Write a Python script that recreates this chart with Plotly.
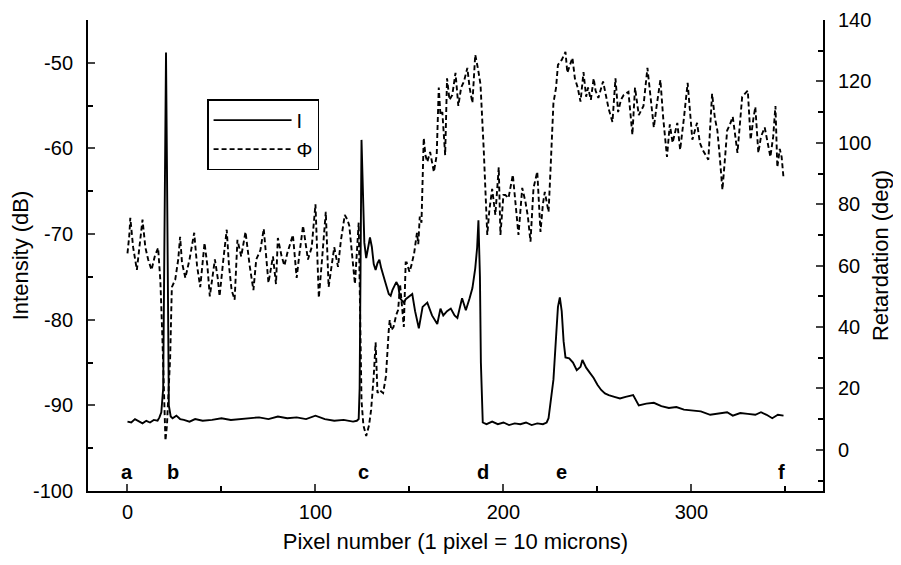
import plotly.graph_objects as go

# ---- Intensity I (dB), left axis ----
i_x = [0, 2, 4, 6, 8, 10, 12, 14, 16, 17, 18, 19, 19.5, 20, 20.5, 21, 21.5, 22, 23, 24,
       26, 28, 30, 33, 36, 40, 45, 50, 55, 60, 65, 70, 75, 80, 85, 90, 95, 100, 105, 110,
       115, 120, 122, 123, 123.5, 124, 124.5, 125, 125.5, 126, 127, 128, 129, 130, 131, 132,
       133, 134, 135, 137, 139, 140, 141, 143, 144, 145, 147, 148, 150, 151.5, 153, 155,
       157, 159.5, 162, 164.8, 166.5, 168, 170, 172, 174, 175.5, 178, 180, 182, 183.5, 185,
       186, 186.7, 187.5, 188, 189, 191, 194, 197, 200, 203, 206, 209, 212, 215, 218, 221,
       223, 224, 225, 226.6, 228, 229, 230, 231, 232, 233, 235, 237, 239, 241, 242, 244,
       246, 248, 250, 252, 254, 256, 259, 262, 265, 269, 272, 276, 280, 284, 288, 292, 296,
       300, 305, 310, 315, 319, 322, 326, 330, 334, 337, 340, 343, 346, 349]
i_db = [-91.9, -92.0, -91.6, -91.9, -92.1, -91.8, -92.0, -91.7, -91.8, -91.4, -90.8, -88, -75,
        -58, -48.8, -62, -80, -90, -91.3, -91.5,
        -91.2, -91.6, -91.7, -91.9, -91.6, -91.8, -91.7, -91.5, -91.7, -91.6, -91.5, -91.4,
        -91.6, -91.3, -91.5, -91.4, -91.6, -91.2, -91.6, -91.8,
        -91.7, -91.9, -91.8, -91.6, -88, -75, -59, -63, -68, -71, -72.8, -71.5, -70.4, -71.5,
        -73.5, -74.2,
        -73.4, -73, -74, -75.5, -77, -77.2, -76.5, -75.6, -76, -77.5, -78, -77.6, -77.2, -77,
        -79, -81,
        -78.5, -78, -79.5, -80.5, -78.7, -79.5, -79, -78.7, -79.5, -79.8, -77.5, -78.9, -77.5,
        -76.3, -74,
        -71.6, -68.4, -75, -85, -92, -92.2, -91.9, -92.2, -92.0, -92.3, -92.1, -92.2, -92.0,
        -92.3, -92.1, -92.2,
        -92.0, -91.5, -90, -87, -82, -78.5, -77.4, -79, -82.5, -84.4, -84.5, -85, -85.9,
        -85.5, -84.7, -85.6,
        -86.2, -86.8, -87.6, -88.2, -88.6, -88.8, -89, -89.2, -89, -88.8, -90, -89.8, -89.7,
        -90.1, -90.3, -90.2, -90.5,
        -90.6, -90.7, -91.1, -90.9, -90.8, -91.2, -90.9, -91, -91.1, -90.8, -91.1, -91.5,
        -91.1, -91.2]

# ---- Retardation Phi (deg), right axis ----
p_x = [0, 1, 1.5, 3, 5, 6.5, 8, 9.5, 11, 12.8, 14.5, 16.3, 17.5, 18.5, 19.5, 20.2, 21, 22,
       22.7, 23.6, 25.4, 27, 28, 29, 30.8, 33, 35.5, 37, 38.7, 41, 42.5, 43.8, 46.5, 48, 49,
       51, 52.8, 54, 55.4, 57, 58.5, 60.5, 62.8, 65, 67, 68.5, 70.7, 72.5, 75, 77.4, 79, 80,
       82, 83.5, 85, 88, 90, 91.5, 93.4, 96, 98, 100, 101.8, 103.5, 105.5, 107, 110, 112,
       113.5, 115.6, 117, 118, 119.5, 121, 123, 123.8, 124.5, 125.5, 127, 128.5, 129.6, 131,
       132, 133, 134, 136, 137.5, 139, 139.5, 140.4, 141.5, 143, 144, 145, 146, 147, 148,
       148.5, 150, 151, 152.5, 154, 154.7, 155.5, 156.4, 157.6, 158.5, 159.5, 161, 163,
       164.5, 165.6, 166.5, 167.5, 169, 170, 171.3, 172.8, 174.5, 176, 177.5, 179, 180.8,
       182, 183.5, 185, 186.5, 187.8, 189.5, 191.4, 192.5, 194, 195.7, 197.5, 198.4, 200,
       201, 202.7, 205, 207, 208, 210, 211.7, 213, 214.4, 216, 218, 219.7, 221, 222, 224,
       225, 226.6, 228, 229, 231, 233, 234, 235.5, 236.7, 238, 239.5, 241, 242.6, 244, 245,
       246.5, 248, 249, 250.5, 253, 254.5, 256, 258, 259.6, 261, 262.5, 264, 266.5, 268.6,
       270, 272, 274.5, 276.6, 278, 280, 281.5, 283.5, 285, 287, 288.5, 290, 292.5, 294,
       296, 298, 300.5, 303, 304.5, 306, 309, 311, 312.5, 313.8, 315, 316.5, 318, 319,
       320.5, 322, 324.5, 327, 330, 331.5, 333, 334, 335.6, 337, 339, 340.5, 342, 343.5,
       344.7, 345.7, 347, 348, 349]
p_deg = [64, 70, 75.6, 66, 58.6, 68, 75, 66, 62, 58.6, 63, 65.8, 55, 38, 15, 3, 8, 20,
         30, 53, 55.4, 62, 69.4, 61, 56, 62, 70.7, 60, 53, 67.4, 60, 50, 62, 56, 50,
         62, 71.7, 60, 52, 48.9, 68.4, 63, 71, 60, 52, 62, 65, 72, 54.4, 63, 54, 69,
         63, 60, 64, 70, 56, 64, 73, 62, 66, 80, 49.5, 62, 77.5, 53, 66, 59.6,
         68, 76.5, 75, 73, 64, 54, 74, 45, 16, 8, 4.5, 8, 13, 24,
         35, 18.5, 19.5, 18.5, 24, 39, 42.3, 39, 40, 44, 45.6, 54, 48, 40, 61,
         61, 58, 60, 64, 70.7, 67, 76, 74, 101.6, 96, 93.8, 97, 90.5,
         96, 118, 109, 110, 96, 121, 114, 115.6, 122.8, 112, 118, 120, 124.4,
         118, 113, 128.7, 124, 119, 98, 70, 78, 85, 76.5, 92, 70, 83,
         83, 82, 89.6, 76.5, 70, 85.3, 80.8, 76, 67.8, 85.3, 90.6, 71, 80, 84, 77.5,
         90.6, 113, 118, 125.4, 127, 129.6, 122.8, 126, 127.7, 121, 118, 113.4, 123, 115, 118,
         114, 121, 117, 114.6, 120, 116, 111, 106.8, 121, 110, 114, 115.6, 116.6, 102.6,
         118, 109, 112, 124.4, 116, 105, 112, 120.5, 108, 95.4, 106, 100, 106.5, 97.7,
         108, 119.5, 101, 106.5, 100, 97.7, 94.5, 116, 108, 104, 96, 84.7, 96, 104,
         106, 108.5, 96.7, 115, 117, 101, 108, 111.7, 96.7, 102, 105, 100, 95.4, 102,
         112, 92, 98, 95.4, 88.6]

# ---- point labels ----
lab_x = [0, 24, 125.5, 189, 231, 348]
lab_t = ["a", "b", "c", "d", "e", "f"]

x_ticks = [0, 100, 200, 300]
x_ticktext = ["0", "100", "200", "300"]
y_ticks = [-100, -90, -80, -70, -60, -50]
y_ticktext = ["-100", "-90", "-80", "-70", "-60", "-50"]
y2_ticks = [0, 20, 40, 60, 80, 100, 120, 140]
y2_ticktext = ["0", "20", "40", "60", "80", "100", "120", "140"]

FONT = "Liberation Sans, Arial, sans-serif"

fig = go.Figure()
fig.add_trace(go.Scatter(x=i_x, y=i_db, mode="lines", name="I",
                         line=dict(color="black", width=1.9)))
fig.add_trace(go.Scatter(x=p_x, y=p_deg, mode="lines", name="Φ", yaxis="y2",
                         line=dict(color="black", width=1.9, dash="5px,3px")))

for xx, tt in zip(lab_x, lab_t):
    fig.add_annotation(x=xx, y=-97.8, text="<b>%s</b>" % tt, showarrow=False,
                       font=dict(size=20, color="black", family=FONT),
                       xref="x", yref="y")

# the page body adds an 8 px margin all round, so the figure is sized to fit inside it
fig.update_layout(
    width=885, height=549,
    margin=dict(l=80, r=70, t=12, b=66),
    paper_bgcolor="white", plot_bgcolor="white",
    font=dict(family=FONT, color="black", size=20),
    showlegend=True,
    legend=dict(x=0.162, y=0.832, xanchor="left", yanchor="top",
                bordercolor="black", borderwidth=1.5, bgcolor="white",
                font=dict(size=20, family=FONT), itemwidth=78,
                tracegroupgap=2),
    xaxis=dict(range=[-21, 370], tickvals=x_ticks, ticktext=x_ticktext,
               ticks="inside", ticklen=7, ticklabelstandoff=2,
               tickwidth=1.5, showline=True, linecolor="black", linewidth=2,
               showgrid=False, zeroline=False, mirror=False, automargin=False,
               minor=dict(dtick=50, ticks="inside", ticklen=5, tickcolor="black"),
               title=dict(text="Pixel number (1 pixel = 10 microns)", font=dict(size=22),
                          standoff=12),
               tickfont=dict(size=20)),
    yaxis=dict(range=[-100, -45], tickvals=y_ticks, ticktext=y_ticktext,
               ticks="inside", ticklen=7, ticklabelstandoff=9,
               tickwidth=1.5, showline=True, linecolor="black", linewidth=2,
               showgrid=False, zeroline=False, automargin=False,
               minor=dict(dtick=5, ticks="inside", ticklen=5, tickcolor="black"),
               title=dict(text="Intensity (dB)", font=dict(size=22), standoff=8),
               tickfont=dict(size=20)),
    yaxis2=dict(range=[-13.4, 140], tickvals=y2_ticks, ticktext=y2_ticktext,
                ticks="inside", ticklen=7, ticklabelstandoff=9,
                tickwidth=1.5, showline=True, linecolor="black", linewidth=2,
                showgrid=False, zeroline=False, overlaying="y", side="right",
                automargin=False,
                minor=dict(dtick=10, ticks="inside", ticklen=5, tickcolor="black"),
                title=dict(text="Retardation (deg)", font=dict(size=22), standoff=15),
                tickfont=dict(size=20)),
)

fig.write_html("out.html")
